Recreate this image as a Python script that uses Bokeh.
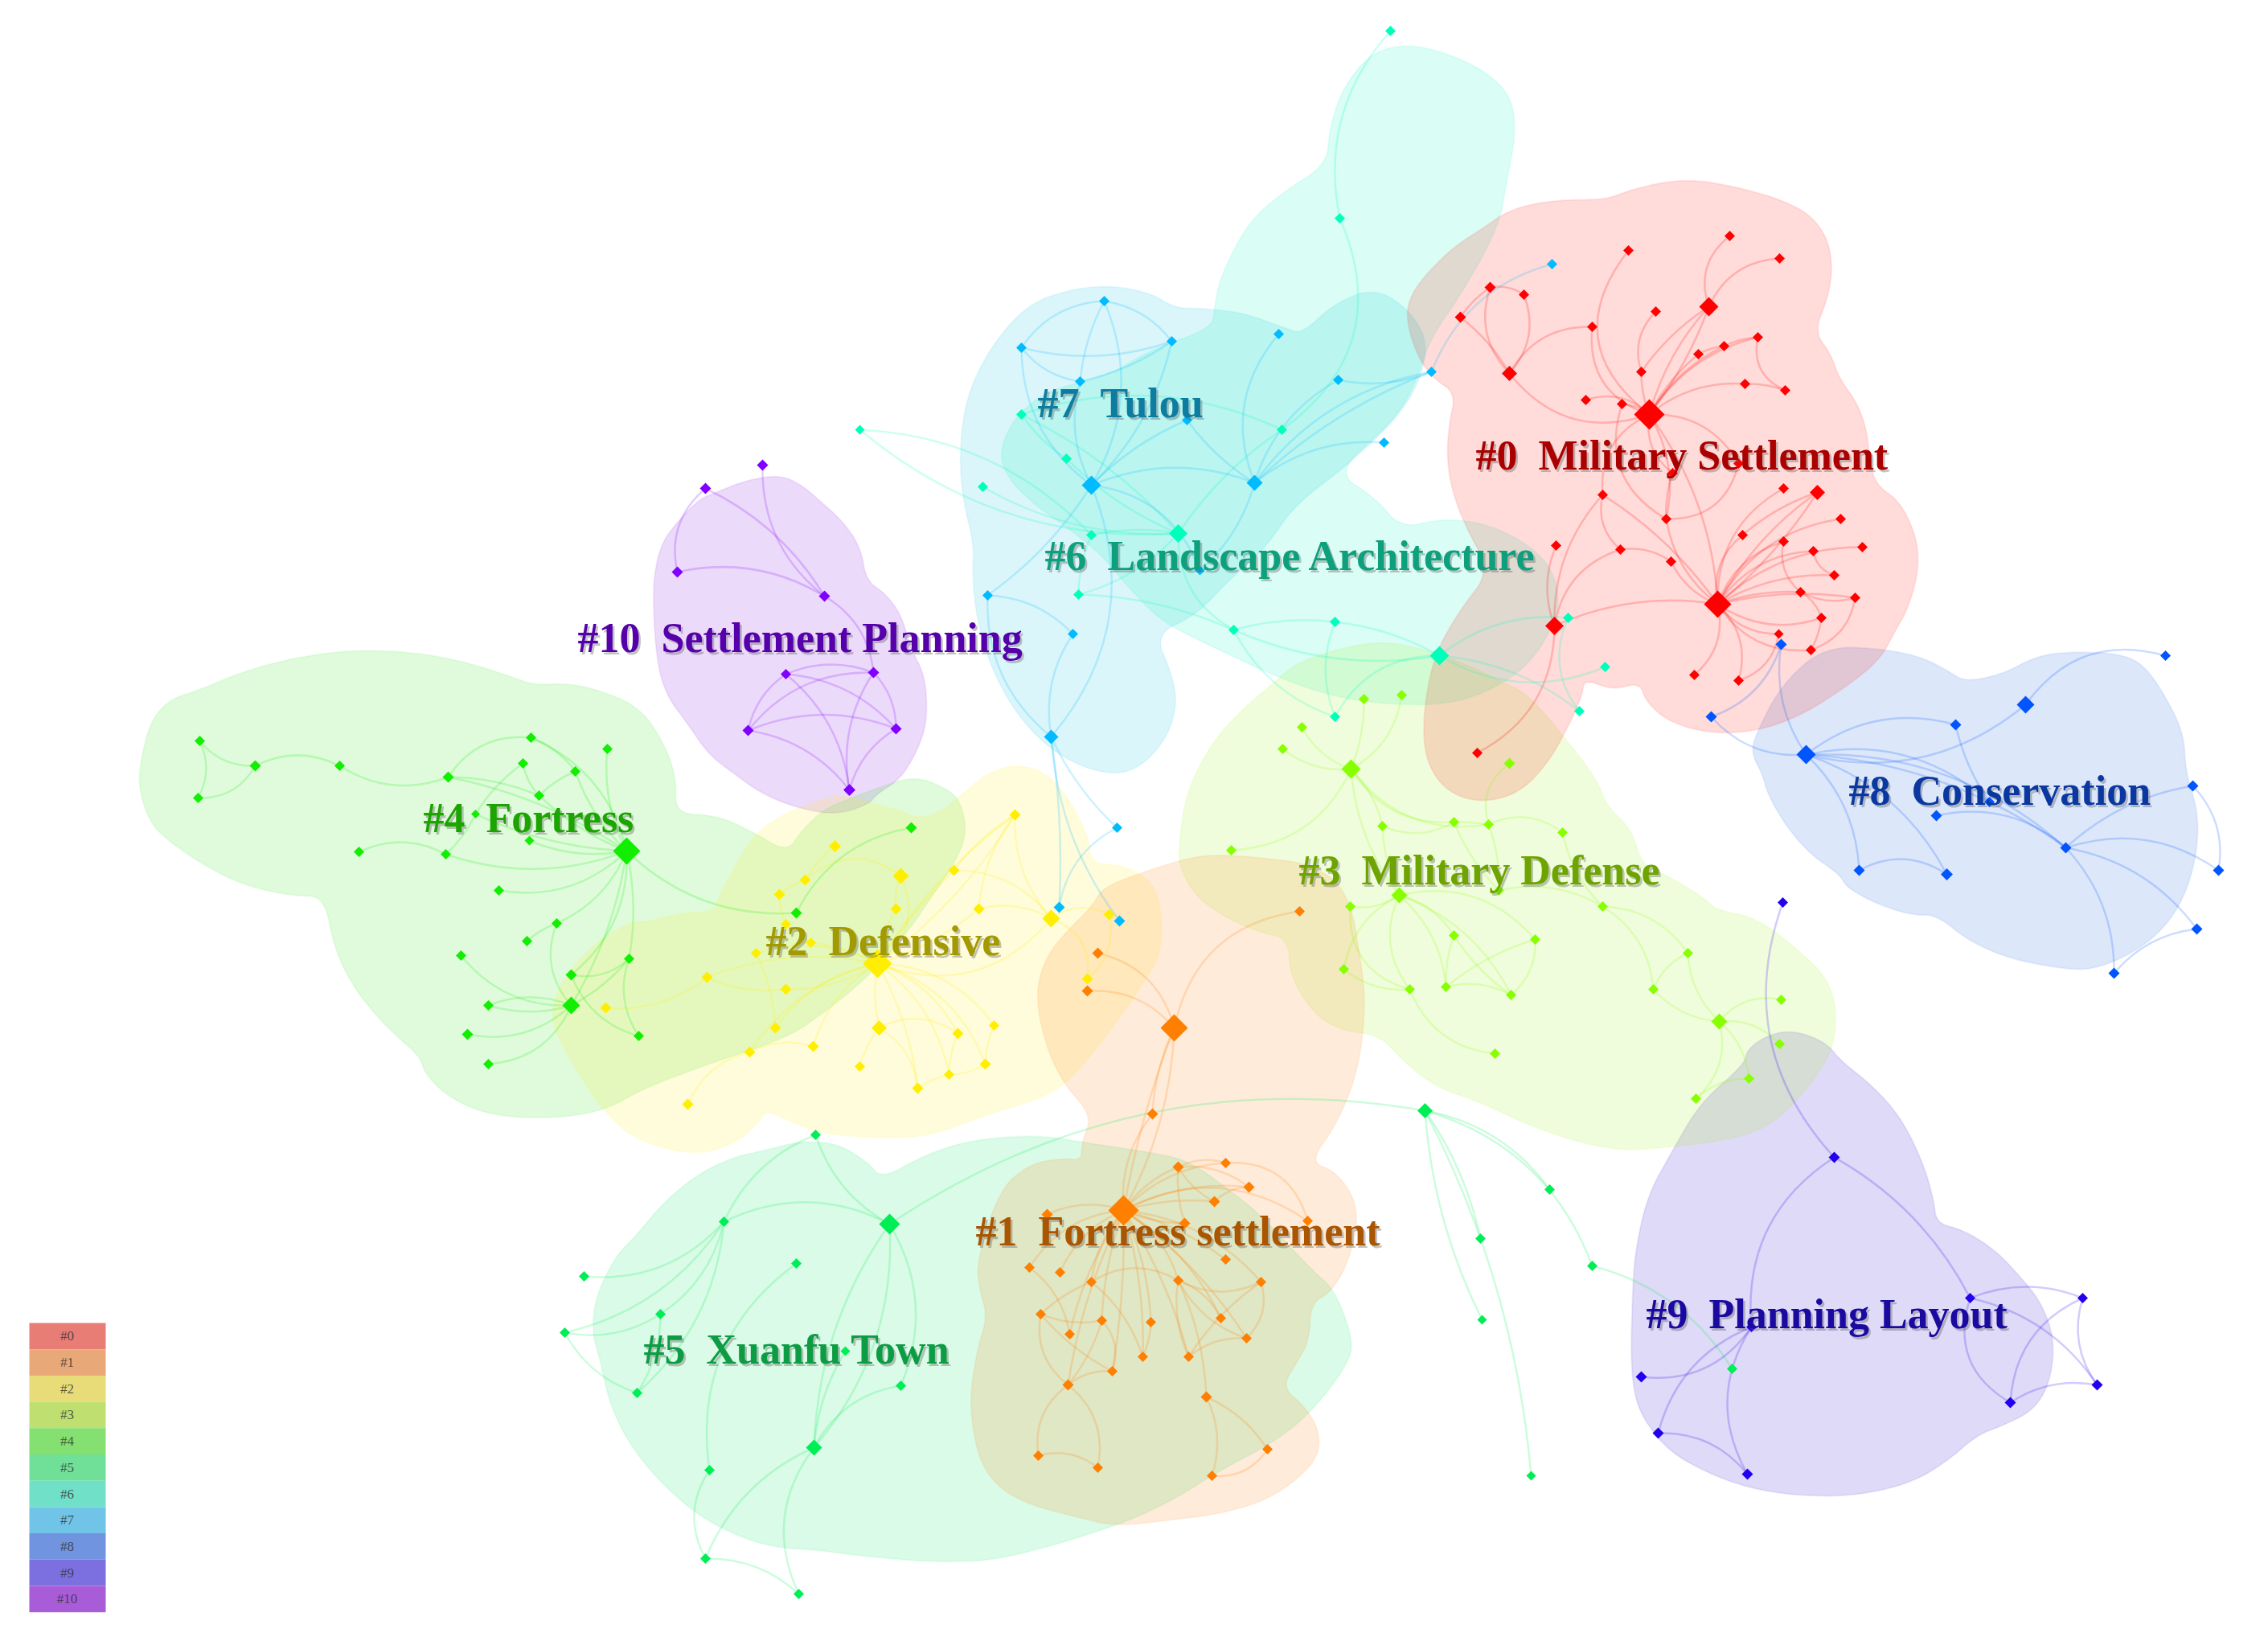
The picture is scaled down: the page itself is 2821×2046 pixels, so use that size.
from math import pi

from bokeh.embed import file_html
from bokeh.models import ColumnDataSource, Range1d
from bokeh.plotting import figure
from bokeh.resources import INLINE

# ---------------------------- cluster names -------------------------------
cluster_names = ["Military Settlement", "Fortress settlement", "Defensive", "Military Defense",
                 "Fortress", "Xuanfu Town", "Landscape Architecture", "Tulou",
                 "Conservation", "Planning Layout", "Settlement Planning"]
legend_labels = ["#0", "#1", "#2", "#3", "#4", "#5", "#6", "#7", "#8", "#9", "#10"]

# ------------------- nodes (x, y, diameter), layout space -----------------
nodes_0 = [(2051, 515, 38), (2136, 751, 34), (2125, 381, 24), (1877, 464, 19), (1933, 778, 23), (2260, 612, 19),
           (2025, 311, 13), (2151, 293, 13), (2213, 321, 13), (1853, 357, 14), (1895, 366, 13), (1816, 394, 14),
           (1980, 406, 13), (2059, 387, 13), (2186, 419, 13), (2144, 430, 13), (2112, 440, 13), (2041, 462, 13),
           (2170, 477, 13), (2220, 485, 13), (1972, 497, 13), (2017, 502, 13), (2080, 588, 13), (2162, 576, 13),
           (1993, 615, 13), (2218, 607, 13), (2072, 645, 13), (2289, 645, 13), (2167, 665, 13), (2218, 673, 13),
           (2316, 680, 13), (1935, 678, 13), (2015, 683, 13), (2255, 685, 13), (2078, 698, 13), (2281, 715, 13),
           (2239, 736, 13), (2307, 743, 13), (2265, 768, 13), (2212, 788, 12), (2252, 808, 13), (2107, 839, 13),
           (2162, 846, 13), (1837, 936, 13)]
nodes_1 = [(1397, 1505, 38), (1460, 1278, 34), (1616, 1133, 13), (1365, 1185, 14), (1352, 1232, 14), (1433, 1385, 14),
           (1302, 1510, 14), (1465, 1451, 14), (1524, 1446, 13), (1553, 1476, 14), (1510, 1494, 14), (1473, 1521, 14),
           (1626, 1518, 13), (1280, 1576, 13), (1318, 1582, 13), (1357, 1594, 13), (1465, 1592, 13), (1524, 1566, 13),
           (1568, 1594, 13), (1294, 1634, 13), (1370, 1642, 13), (1431, 1644, 13), (1518, 1639, 13), (1330, 1659, 13),
           (1550, 1664, 13), (1421, 1687, 13), (1478, 1687, 13), (1383, 1705, 13), (1328, 1722, 14), (1500, 1737, 14),
           (1291, 1810, 13), (1365, 1825, 13), (1576, 1802, 13), (1507, 1835, 13)]
nodes_2 = [(1091, 1198, 36), (1307, 1142, 22), (1120, 1089, 20), (1262, 1013, 14), (1186, 1082, 14), (1038, 1052, 15),
           (1001, 1094, 14), (969, 1112, 14), (1114, 1130, 14), (1217, 1130, 14), (977, 1149, 13), (1008, 1172, 13),
           (940, 1185, 13), (879, 1215, 14), (977, 1230, 14), (964, 1278, 14), (1093, 1278, 19), (1191, 1285, 14),
           (1236, 1275, 13), (1011, 1301, 14), (932, 1308, 14), (1069, 1326, 13), (1180, 1336, 13), (1225, 1323, 14),
           (1141, 1353, 14), (855, 1373, 14), (1379, 1137, 14), (1352, 1217, 14), (753, 1253, 14)]
nodes_3 = [(1680, 956, 24), (1740, 1113, 20), (2138, 1270, 20), (1696, 869, 13), (1743, 864, 13), (1619, 904, 13),
           (1595, 931, 13), (1877, 949, 14), (1719, 1027, 13), (1808, 1022, 13), (1851, 1025, 13), (1943, 1035, 13),
           (1531, 1057, 13), (1864, 1107, 13), (1679, 1127, 13), (1993, 1127, 13), (1808, 1163, 13), (1909, 1168, 13),
           (1671, 1205, 13), (1753, 1230, 13), (1798, 1227, 13), (1879, 1237, 13), (1859, 1310, 13), (2099, 1185, 13),
           (2056, 1230, 13), (2215, 1243, 13), (2213, 1298, 13), (2175, 1341, 13), (2109, 1366, 13)]
nodes_4 = [(779, 1058, 34), (710, 1250, 22), (248, 921, 13), (246, 992, 13), (317, 952, 14), (422, 952, 13),
           (557, 966, 14), (660, 917, 13), (650, 949, 13), (715, 959, 13), (755, 931, 13), (670, 989, 13),
           (591, 1012, 11), (658, 1045, 12), (446, 1059, 13), (554, 1062, 13), (620, 1107, 13), (692, 1148, 13),
           (655, 1170, 13), (573, 1188, 13), (782, 1192, 13), (710, 1212, 14), (607, 1250, 13), (581, 1286, 14),
           (794, 1288, 13), (607, 1323, 13), (990, 1135, 14), (1133, 1029, 14)]
nodes_5 = [(1106, 1522, 26), (1012, 1800, 20), (1014, 1411, 13), (900, 1519, 13), (990, 1571, 13), (726, 1587, 13),
           (821, 1634, 13), (702, 1657, 13), (1051, 1680, 12), (1120, 1723, 13), (792, 1732, 13), (882, 1828, 13),
           (877, 1938, 13), (993, 1982, 13), (1772, 1381, 19), (1927, 1479, 13), (1841, 1540, 13), (1843, 1641, 12),
           (1980, 1574, 13), (1904, 1835, 12), (2154, 1702, 13)]
nodes_6 = [(1790, 815, 24), (1465, 663, 23), (1729, 38, 13), (1666, 271, 13), (1270, 515, 13), (1326, 570, 13),
           (1222, 605, 13), (1594, 534, 13), (1357, 665, 13), (1341, 739, 13), (1534, 783, 13), (1660, 773, 13),
           (1660, 891, 13), (1950, 768, 13), (1996, 829, 13), (1964, 884, 13), (1069, 534, 12)]
nodes_7 = [(1357, 603, 24), (1560, 600, 20), (1373, 374, 13), (1270, 432, 13), (1457, 424, 13), (1343, 474, 13),
           (1590, 415, 13), (1664, 472, 13), (1476, 522, 13), (1780, 462, 13), (1721, 550, 13), (1930, 328, 13),
           (1492, 709, 12), (1228, 740, 13), (1334, 788, 13), (1307, 916, 18), (1389, 1029, 13), (1317, 1128, 14),
           (1392, 1145, 14)]
nodes_8 = [(2246, 938, 24), (2519, 876, 22), (2215, 801, 14), (2128, 891, 14), (2432, 901, 14), (2693, 815, 13),
           (2727, 977, 14), (2474, 997, 13), (2408, 1014, 14), (2569, 1054, 14), (2759, 1082, 14), (2312, 1082, 14),
           (2421, 1087, 15), (2732, 1155, 14), (2629, 1210, 14)]
nodes_9 = [(2217, 1122, 13), (2281, 1439, 14), (2450, 1614, 13), (2590, 1614, 13), (2178, 1650, 13), (2041, 1712, 14),
           (2608, 1722, 14), (2500, 1744, 14), (2062, 1782, 14), (2173, 1833, 14)]
nodes_10 = [(948, 578, 14), (877, 607, 14), (842, 711, 14), (1025, 741, 14), (977, 838, 13), (1086, 836, 14),
            (930, 908, 14), (1114, 906, 14), (1056, 982, 15)]

# ------------------------ links (from, to, bend) --------------------------
edges_0 = [(0, 6, -.5), (0, 2, -.12), (0, 2, .08), (13, 17, .3), (17, 0, .1), (0, 15, -.15), (0, 16, -.1), (0, 14, -.2),
           (0, 18, -.2), (0, 21, .15), (0, 20, .3), (0, 3, -.35), (3, 12, -.3), (3, 9, -.3), (3, 10, .3), (3, 11, .1),
           (9, 10, -.2), (9, 11, .1), (12, 0, .4), (2, 7, -.35), (2, 8, -.3), (2, 17, .1), (16, 15, -.1), (15, 14, -.1),
           (14, 19, .4), (18, 19, -.1), (0, 22, .3), (0, 24, .35), (0, 26, -.2), (0, 23, -.3), (0, 1, -.15), (21, 26, .4),
           (24, 1, -.1), (24, 32, .3), (24, 4, .2), (26, 1, .2), (22, 26, .1), (23, 26, -.4), (32, 34, -.2), (32, 4, .3),
           (4, 31, -.2), (4, 43, -.3), (4, 1, -.15), (34, 1, .2), (1, 5, -.12), (1, 5, .08), (1, 25, -.3), (1, 28, -.3),
           (1, 29, -.25), (1, 27, -.25), (1, 33, -.25), (1, 30, -.2), (1, 35, -.15), (1, 36, -.1), (1, 37, -.1), (1, 38, .25),
           (1, 39, .25), (1, 40, .3), (1, 41, -.3), (1, 42, -.3), (37, 40, -.3), (36, 38, -.2), (38, 40, -.1), (36, 37, .2),
           (42, 39, .3), (28, 5, -.1), (33, 35, .3), (29, 36, .3)]
edges_1 = [(1, 2, -.35), (1, 3, .3), (1, 4, .25), (1, 5, .1), (1, 0, .05), (1, 0, -.12), (5, 0, .2), (0, 6, .2), (0, 7, -.15),
           (0, 8, -.2), (0, 9, -.15), (0, 10, -.1), (0, 11, .1), (0, 12, -.3), (0, 13, .25), (0, 14, .2), (0, 15, .15),
           (0, 16, -.2), (0, 17, -.1), (0, 18, -.2), (0, 20, .08), (0, 21, -.1), (0, 22, -.15), (0, 23, .1), (0, 24, -.1),
           (0, 25, -.08), (0, 26, -.08), (0, 27, -.05), (0, 28, .08), (7, 8, -.2), (8, 12, -.4), (9, 7, .2), (7, 11, .1),
           (7, 10, .15), (9, 10, .2), (15, 16, -.3), (15, 19, .1), (19, 20, .15), (19, 28, .3), (19, 27, .1), (20, 27, -.3),
           (13, 23, -.2), (21, 25, -.1), (16, 26, .15), (16, 24, .2), (16, 18, .25), (18, 24, -.3), (18, 26, .1), (22, 16, .2),
           (24, 26, .2), (27, 28, .2), (28, 30, .3), (28, 31, -.3), (30, 31, -.25), (29, 33, -.2), (29, 32, -.15), (32, 33, -.3),
           (29, 16, .1), (15, 25, -.15), (20, 28, -.1)]
edges_2 = [(0, 1, .35), (1, 3, -.2), (1, 4, .25), (1, 9, .2), (1, 26, -.3), (3, 4, .1), (3, 9, .15), (0, 3, -.1), (0, 3, .1),
           (0, 4, -.05), (0, 9, .1), (0, 8, -.1), (8, 2, -.15), (0, 11, .1), (0, 12, .2), (0, 13, .15), (0, 14, -.15),
           (14, 13, -.15), (13, 28, -.2), (0, 15, .2), (0, 16, .1), (0, 17, -.2), (0, 18, -.25), (0, 19, .2), (0, 20, .2),
           (0, 22, -.2), (0, 23, -.25), (0, 24, -.1), (16, 21, .1), (16, 17, -.3), (16, 24, -.25), (17, 22, .1), (18, 23, .1),
           (22, 23, .15), (22, 24, .1), (5, 6, .1), (6, 7, .1), (6, 2, -.4), (7, 10, .1), (10, 11, .1), (12, 15, -.1),
           (20, 19, -.2), (20, 25, .25), (26, 27, -.3), (1, 27, -.4), (2, 0, -.4)]
edges_3 = [(0, 3, .1), (0, 4, .25), (0, 5, -.2), (0, 6, -.2), (0, 8, -.15), (0, 9, .3), (0, 10, .3), (0, 12, -.3), (0, 1, .15),
           (7, 10, .35), (8, 9, .25), (9, 10, -.05), (10, 11, -.3), (9, 13, .1), (10, 13, -.1), (8, 1, .1), (1, 14, -.2),
           (1, 16, -.2), (1, 17, -.3), (1, 18, .25), (1, 19, .3), (1, 20, -.2), (1, 21, -.2), (16, 21, .1), (16, 20, .1),
           (17, 20, .1), (17, 21, -.25), (20, 21, -.2), (19, 22, .3), (14, 19, .4), (18, 19, .2), (11, 15, .15), (15, 23, -.25),
           (15, 24, -.25), (23, 24, .2), (23, 2, .2), (24, 2, .2), (2, 25, -.3), (2, 26, -.25), (2, 27, -.2), (2, 28, -.3),
           (27, 28, .2), (13, 15, -.2)]
edges_4 = [(2, 3, -.25), (2, 4, .25), (3, 4, .3), (4, 5, -.25), (5, 6, .25), (6, 7, -.3), (6, 11, -.1), (7, 9, -.15), (7, 0, -.25),
           (8, 11, .15), (8, 12, .1), (9, 11, .1), (9, 0, .12), (10, 0, .15), (6, 0, -.1), (11, 0, .1), (12, 0, .1), (13, 0, .15),
           (14, 15, -.25), (15, 0, .18), (15, 12, .1), (16, 0, .25), (17, 0, .2), (17, 18, .1), (17, 1, .3), (0, 20, -.1),
           (0, 21, -.25), (0, 1, -.1), (20, 21, -.25), (20, 24, .25), (1, 19, -.25), (1, 22, .2), (1, 23, -.25), (1, 25, -.3),
           (21, 24, .25), (1, 22, -.15), (0, 26, .22), (26, 27, -.25), (20, 1, -.1)]
edges_5 = [(0, 2, -.2), (3, 2, -.2), (3, 0, -.25), (3, 5, -.25), (3, 7, -.2), (3, 6, -.2), (3, 10, -.2), (6, 7, -.2), (6, 10, -.15),
           (7, 10, .2), (0, 1, .15), (0, 1, -.2), (0, 9, -.25), (1, 9, -.25), (1, 8, -.12), (4, 11, .3), (11, 12, .3), (1, 12, .2),
           (1, 13, .3), (12, 13, -.2), (0, 14, -.2), (14, 15, -.2), (14, 16, -.1), (14, 17, .1), (14, 18, -.25), (14, 19, -.1),
           (18, 20, -.2)]
edges_6 = [(2, 3, .25), (3, 7, -.4), (4, 5, .1), (4, 1, -.1), (5, 1, .1), (16, 8, -.2), (16, 1, .2), (6, 1, .15), (7, 1, .1),
           (1, 8, .1), (1, 9, -.15), (8, 9, .1), (1, 10, .3), (10, 11, -.1), (10, 0, .15), (11, 0, -.1), (10, 12, .2), (11, 12, .2),
           (0, 13, -.2), (0, 14, .25), (0, 15, -.15), (13, 15, .3), (7, 4, .2), (12, 0, -.3), (9, 10, -.1)]
edges_7 = [(2, 3, .25), (2, 4, -.2), (3, 4, .15), (3, 5, .2), (2, 0, -.25), (2, 5, .1), (3, 0, .25), (4, 0, -.15), (5, 0, .2),
           (4, 5, -.1), (8, 0, .1), (0, 1, -.2), (1, 6, -.3), (1, 7, -.2), (1, 9, -.2), (1, 10, -.2), (7, 9, .15), (9, 11, -.25),
           (8, 1, .1), (1, 12, -.15), (0, 12, -.3), (0, 15, -.3), (13, 14, -.2), (13, 0, .1), (13, 15, .25), (14, 15, .2),
           (15, 18, .15), (15, 16, .1), (16, 17, .25), (15, 17, -.05), (9, 1, .1)]
edges_8 = [(0, 2, -.2), (0, 3, -.25), (2, 3, -.25), (0, 4, -.25), (0, 1, .25), (1, 5, -.35), (0, 7, -.1), (0, 7, -.25), (4, 7, .1),
           (0, 11, -.2), (0, 12, -.2), (11, 12, -.3), (0, 9, -.2), (8, 9, -.25), (7, 9, -.05), (9, 6, -.15), (6, 10, -.25), (9, 10, -.25),
           (9, 13, -.2), (9, 14, -.2), (13, 14, .2)]
edges_9 = [(0, 1, .3), (1, 2, -.15), (1, 4, .3), (2, 3, -.2), (2, 6, -.2), (2, 7, .4), (3, 6, .25), (3, 7, .3), (6, 7, .2),
           (4, 5, -.3), (4, 8, .25), (4, 9, .3), (8, 9, -.25)]
edges_10 = [(0, 3, .25), (1, 3, -.15), (1, 2, .3), (2, 3, -.2), (3, 5, -.25), (4, 5, -.2), (4, 6, .2), (4, 7, -.2), (4, 8, -.2),
            (5, 6, .25), (5, 7, -.2), (5, 8, .2), (6, 7, -.2), (6, 8, -.2), (7, 8, .2)]

# ------------------- cluster hull outlines (spline control points) --------
hull_0 = [(1748, 394), (1754, 368), (1771, 343), (1807, 307), (1843, 284), (1879, 259), (1935, 248), (1996, 248), (2027, 236),
          (2067, 226), (2108, 223), (2159, 232), (2210, 246), (2248, 264), (2271, 292), (2279, 328), (2274, 368), (2256, 412),
          (2277, 440), (2287, 470), (2310, 501), (2322, 537), (2325, 572), (2333, 603), (2363, 623), (2384, 669), (2386, 710),
          (2373, 756), (2358, 782), (2338, 820), (2297, 853), (2241, 889), (2185, 909), (2129, 912), (2078, 899), (2047, 873),
          (2039, 848), (2006, 858), (1970, 844), (1968, 863), (1950, 904), (1924, 950), (1889, 986), (1843, 998), (1802, 986),
          (1777, 955), (1769, 914), (1774, 858), (1787, 807), (1817, 756), (1853, 710), (1822, 654), (1805, 608), (1799, 567),
          (1802, 527), (1810, 488), (1782, 470), (1761, 440)]
hull_1 = [(1287, 1237), (1300, 1190), (1327, 1157), (1358, 1127), (1371, 1103), (1425, 1083), (1466, 1070), (1504, 1062),
          (1569, 1066), (1634, 1075), (1678, 1110), (1694, 1205), (1698, 1257), (1688, 1335), (1661, 1400), (1628, 1445),
          (1663, 1457), (1691, 1503), (1678, 1567), (1655, 1607), (1630, 1620), (1628, 1667), (1613, 1693), (1594, 1725),
          (1621, 1747), (1640, 1777), (1640, 1810), (1613, 1840), (1571, 1867), (1514, 1883), (1456, 1890), (1387, 1898),
          (1341, 1887), (1276, 1870), (1238, 1847), (1215, 1810), (1205, 1743), (1215, 1677), (1228, 1637), (1217, 1600),
          (1215, 1567), (1242, 1480), (1280, 1447), (1322, 1440), (1345, 1443), (1345, 1420), (1358, 1387), (1322, 1347),
          (1300, 1300)]
hull_2 = [(800, 1147), (845, 1135), (889, 1133), (892, 1117), (912, 1080), (934, 1043), (950, 1028), (979, 1010), (1014, 997),
          (1041, 988), (1068, 993), (1090, 1000), (1117, 1007), (1144, 1018), (1171, 1008), (1193, 990), (1229, 960), (1264, 950),
          (1300, 960), (1327, 990), (1354, 1040), (1356, 1073), (1394, 1075), (1425, 1090), (1443, 1117), (1445, 1183), (1425, 1217),
          (1380, 1283), (1327, 1347), (1291, 1367), (1224, 1387), (1157, 1413), (1090, 1415), (1023, 1410), (979, 1393), (952, 1380),
          (943, 1397), (912, 1423), (862, 1437), (788, 1417), (747, 1378), (711, 1322), (688, 1279), (686, 1253), (701, 1214),
          (742, 1170), (788, 1144)]
hull_3 = [(1466, 1049), (1474, 988), (1504, 927), (1542, 884), (1580, 852), (1613, 823), (1667, 806), (1716, 797), (1770, 806),
          (1829, 828), (1862, 845), (1900, 862), (1954, 927), (1987, 971), (1997, 1001), (2030, 1032), (2041, 1075), (2073, 1088),
          (2122, 1118), (2133, 1131), (2182, 1140), (2230, 1175), (2279, 1222), (2285, 1287), (2263, 1335), (2209, 1396), (2155, 1417),
          (2046, 1430), (1992, 1428), (1911, 1404), (1840, 1370), (1786, 1352), (1743, 1318), (1716, 1287), (1667, 1281), (1634, 1261),
          (1604, 1214), (1602, 1166), (1564, 1159), (1515, 1136), (1483, 1110), (1466, 1075)]
hull_4 = [(173, 953), (186, 897), (211, 869), (247, 858), (303, 834), (369, 817), (436, 808), (507, 810), (573, 821), (635, 841),
          (665, 852), (706, 849), (752, 860), (795, 880), (823, 919), (841, 966), (839, 1012), (889, 1013), (934, 1033), (979, 1060),
          (996, 1033), (1023, 1007), (1050, 995), (1090, 980), (1135, 965), (1171, 977), (1193, 993), (1202, 1030), (1193, 1063),
          (1157, 1117), (1130, 1157), (1077, 1217), (1023, 1260), (979, 1290), (889, 1320), (800, 1353), (752, 1381), (686, 1391),
          (609, 1387), (558, 1365), (528, 1335), (522, 1313), (482, 1279), (441, 1231), (415, 1179), (403, 1114), (364, 1114),
          (303, 1101), (252, 1075), (211, 1047), (186, 1023), (173, 984)]
hull_5 = [(740, 1613), (765, 1562), (792, 1535), (822, 1498), (864, 1462), (910, 1439), (956, 1429), (994, 1419), (1040, 1421),
          (1079, 1445), (1096, 1466), (1144, 1439), (1193, 1421), (1250, 1413), (1303, 1413), (1345, 1420), (1426, 1432), (1479, 1443),
          (1533, 1483), (1567, 1510), (1632, 1580), (1659, 1603), (1682, 1663), (1678, 1693), (1636, 1750), (1590, 1790), (1514, 1830),
          (1456, 1867), (1387, 1898), (1250, 1939), (1167, 1943), (1071, 1935), (1014, 1927), (968, 1925), (918, 1911), (864, 1882),
          (815, 1837), (780, 1792), (757, 1743), (746, 1690), (736, 1658)]
hull_6 = [(1242, 561), (1262, 517), (1303, 485), (1380, 466), (1431, 434), (1507, 408), (1510, 383), (1517, 344), (1553, 274),
          (1599, 236), (1650, 204), (1653, 159), (1670, 108), (1706, 64), (1752, 54), (1803, 67), (1849, 89), (1880, 121), (1885, 166),
          (1874, 223), (1864, 281), (1818, 364), (1778, 421), (1757, 485), (1727, 529), (1660, 587), (1711, 619), (1742, 657),
          (1793, 644), (1849, 651), (1900, 676), (1931, 708), (1941, 753), (1915, 810), (1874, 848), (1813, 874), (1742, 877),
          (1660, 867), (1589, 842), (1533, 816), (1466, 784), (1436, 765), (1395, 721), (1369, 689), (1329, 657), (1283, 625), (1252, 593)]
hull_7 = [(1193, 574), (1198, 510), (1216, 459), (1247, 411), (1283, 376), (1329, 360), (1380, 354), (1431, 364), (1461, 383),
          (1497, 383), (1548, 389), (1599, 408), (1619, 415), (1660, 376), (1711, 357), (1757, 389), (1778, 434), (1752, 504),
          (1681, 574), (1609, 628), (1573, 682), (1528, 721), (1487, 765), (1436, 788), (1456, 835), (1464, 874), (1451, 918),
          (1415, 957), (1374, 963), (1318, 941), (1272, 899), (1237, 842), (1216, 778), (1209, 721), (1211, 676), (1198, 625)]
hull_8 = [(2178, 937), (2183, 913), (2216, 850), (2270, 803), (2346, 807), (2390, 817), (2421, 833), (2444, 848), (2493, 837),
          (2529, 817), (2569, 810), (2636, 812), (2667, 827), (2694, 867), (2716, 913), (2718, 960), (2734, 1010), (2732, 1063),
          (2716, 1117), (2689, 1157), (2649, 1187), (2604, 1205), (2569, 1205), (2502, 1193), (2448, 1170), (2408, 1137), (2377, 1138),
          (2332, 1123), (2296, 1103), (2288, 1087), (2252, 1063), (2221, 1027), (2198, 987), (2192, 963)]
hull_9 = [(2231, 1281), (2271, 1296), (2289, 1319), (2329, 1350), (2365, 1391), (2392, 1447), (2405, 1493), (2408, 1521), (2441, 1529),
          (2481, 1554), (2512, 1587), (2539, 1620), (2555, 1666), (2550, 1717), (2530, 1753), (2490, 1773), (2459, 1784), (2419, 1819),
          (2374, 1845), (2307, 1860), (2236, 1860), (2173, 1850), (2120, 1830), (2075, 1804), (2046, 1768), (2033, 1738), (2028, 1692),
          (2030, 1610), (2033, 1559), (2048, 1488), (2079, 1432), (2115, 1370), (2169, 1324), (2173, 1304), (2200, 1286)]
hull_10 = [(890, 612), (927, 597), (970, 590), (997, 603), (1020, 623), (1047, 647), (1070, 680), (1077, 722), (1100, 737), (1120, 763),
           (1133, 807), (1150, 840), (1153, 887), (1147, 917), (1133, 947), (1117, 970), (1090, 987), (1080, 1000), (1040, 1013), (993, 1005),
           (947, 987), (910, 960), (880, 937), (853, 897), (830, 867), (817, 827), (812, 757), (813, 713), (823, 673), (847, 643), (870, 620)]

# cluster label anchors (left, baseline)
label_x = [1835, 1213, 952, 1615, 526, 800, 1299, 1290, 2299, 2047, 718]
label_y = [566, 1531, 1170, 1082, 1017, 1678, 691, 501, 983, 1634, 793]

# --------------------------------- styles ---------------------------------
node_colors = ["#ff0000", "#ff7f00", "#ffee00", "#88ff00", "#11ee00", "#00ee55", "#00ffbb", "#00bbff", "#0055ff", "#2200ee", "#8000ff"]
hull_colors = ["#ff1a0a", "#ff7f11", "#ffee22", "#a0f020", "#33e622", "#11e866", "#11f0c0", "#11c4e0", "#2266e0", "#3311cc", "#8811dd"]
text_colors = ["#aa0000", "#aa5500", "#a39a00", "#6ea400", "#1ca400", "#0c9c44", "#0ea07c", "#0c7ca0", "#0a38a0", "#1a0aa0", "#5500aa"]
legend_colors = ["#e87d76", "#e8a878", "#e8dc78", "#bfe070", "#84e070", "#70e098", "#70e0c8", "#70c4e8", "#7094e0", "#7c70e0", "#a85cd8"]
FONT = "Liberation Serif"
GAP = "\u00a0\u00a0"  # svg text collapses a plain double space


def rounded(outline, passes=3):
    """Corner cutting, hull vertices act as control points of a closed spline."""
    for _ in range(passes):
        cut = []
        for k, (xa, ya) in enumerate(outline):
            xb, yb = outline[(k + 1) % len(outline)]
            cut.append((0.75 * xa + 0.25 * xb, 0.75 * ya + 0.25 * yb))
            cut.append((0.25 * xa + 0.75 * xb, 0.25 * ya + 0.75 * yb))
        outline = cut
    return outline


clusters = list(zip(
    [nodes_0, nodes_1, nodes_2, nodes_3, nodes_4, nodes_5, nodes_6, nodes_7, nodes_8, nodes_9, nodes_10],
    [edges_0, edges_1, edges_2, edges_3, edges_4, edges_5, edges_6, edges_7, edges_8, edges_9, edges_10],
    [hull_0, hull_1, hull_2, hull_3, hull_4, hull_5, hull_6, hull_7, hull_8, hull_9, hull_10],
))

p = figure(width=2805, height=2030, output_backend="svg", toolbar_location=None,
           x_range=Range1d(0, 2805), y_range=Range1d(2030, 0), min_border=0,
           outline_line_color=None, background_fill_color="white")
p.axis.visible = False
p.grid.visible = False

# hulls first, they sit under everything else
for i, (_, _, hull) in reversed(list(enumerate(clusters))):
    smooth = rounded(hull)
    p.patch([h[0] for h in smooth], [h[1] for h in smooth], fill_color=hull_colors[i], fill_alpha=0.155,
            line_color=hull_colors[i], line_alpha=0.08, line_width=2)

# curved links, bend is the control point offset as a share of link length
for i, (nodes, edges, _) in enumerate(clusters):
    cds = dict(x0=[], y0=[], x1=[], y1=[], cx=[], cy=[])
    for a, b, bend in edges:
        xa, ya = nodes[a][:2]
        xb, yb = nodes[b][:2]
        cds['x0'].append(xa)
        cds['y0'].append(ya)
        cds['x1'].append(xb)
        cds['y1'].append(yb)
        cds['cx'].append((xa + xb) / 2 - (yb - ya) * bend)
        cds['cy'].append((ya + yb) / 2 + (xb - xa) * bend)
    p.quadratic(x0='x0', y0='y0', x1='x1', y1='y1', cx='cx', cy='cy', source=ColumnDataSource(cds),
                line_color=node_colors[i], line_alpha=0.2, line_width=2.5)

for i, (nodes, _, _) in enumerate(clusters):
    source = ColumnDataSource(dict(x=[n[0] for n in nodes], y=[n[1] for n in nodes],
                                   size=[n[2] / 1.414 for n in nodes]))
    p.scatter('x', 'y', size='size', marker='square', angle=pi / 4, source=source,
              fill_color=node_colors[i], line_color=None)

# cluster labels with their soft drop shadow
for i, name in enumerate(cluster_names):
    text = f"{legend_labels[i]}{GAP}{name}"
    p.text([label_x[i] + 2.5], [label_y[i] + 2.5], text=[text], text_font=FONT, text_font_style="bold",
           text_font_size="52px", text_color="#555555", text_alpha=0.35, text_baseline="alphabetic")
    p.text([label_x[i]], [label_y[i]], text=[text], text_font=FONT, text_font_style="bold",
           text_font_size="52px", text_color=text_colors[i], text_baseline="alphabetic")

# colour key, bottom left
key_x = [83] * len(legend_labels)
key_y = list(range(len(legend_labels)))
key_top = [1645 + 32.7 * k for k in key_y]
key_bottom = [t + 32.7 for t in key_top]
p.quad(left=[36] * 11, right=[131] * 11, top=key_top, bottom=key_bottom, fill_color=legend_colors, line_color=None)
p.text(key_x, [(t + b) / 2 for t, b in zip(key_top, key_bottom)], text=legend_labels, text_font=FONT,
       text_font_size="17px", text_color="#333333", text_alpha=0.8, text_align="center", text_baseline="middle")

open("out.html", "w").write(file_html(p, INLINE))
